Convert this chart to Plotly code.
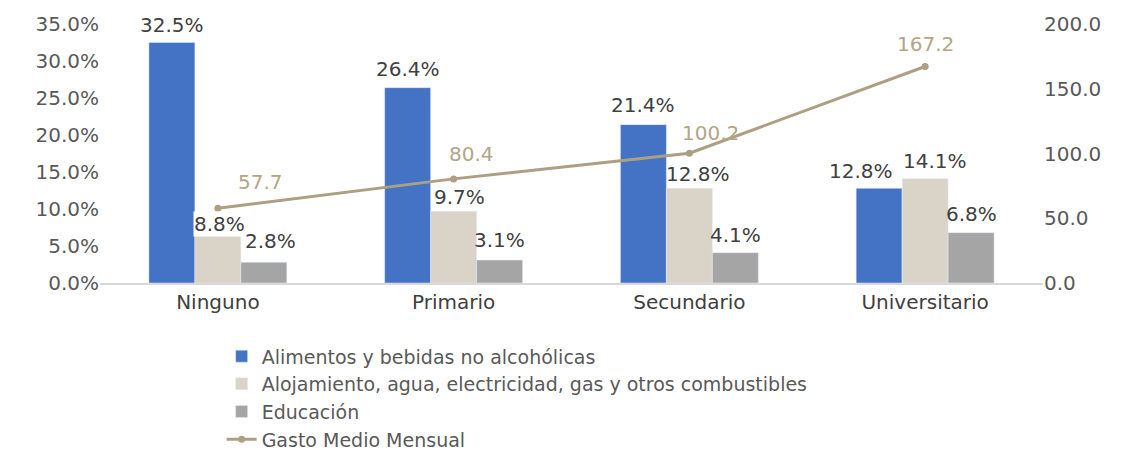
import plotly.graph_objects as go

categorias = ['Ninguno', 'Primario', 'Secundario', 'Universitario']
alimentos = [32.5, 26.4, 21.4, 12.8]
alojamiento = [8.8, 9.7, 12.8, 14.1]
educacion = [2.8, 3.1, 4.1, 6.8]
gasto_medio = [57.7, 80.4, 100.2, 167.2]

FONT = 'DejaVu Sans'
FS = 20
TXT = '#404040'
LINE = '#AC9F82'
BAR_PX = 46  # width of one bar on screen, used to put labels over their bar

fig = go.Figure()

bar_series = [
    ('Alimentos y bebidas no alcohólicas', alimentos, '#4472C4'),
    ('Alojamiento, agua, electricidad, gas y otros combustibles', alojamiento, '#D9D3C8'),
    ('Educación', educacion, '#A5A5A5'),
]
for name, vals, col in bar_series:
    fig.add_trace(go.Bar(x=categorias, y=vals, name=name, marker_color=col))

fig.add_trace(go.Scatter(
    x=categorias, y=gasto_medio, name='Gasto Medio Mensual', yaxis='y2',
    mode='lines+markers', line=dict(color=LINE, width=3),
    marker=dict(size=7, color=LINE),
))

# bar labels (the original has a few of them nudged by hand)
nudges = [
    [(0, 18), (0, 19), (0, 20), (-18, 17)],
    [(2, -6), (6, 14), (9, 14), (10, 18)],
    [(7, 21), (0, 20), (0, 18), (0, 19)],
]
for s, (name, vals, col) in enumerate(bar_series):
    for i, (c, v, (dx, dy)) in enumerate(zip(categorias, vals, nudges[s])):
        # the 8.8% label sits on a white box over the top of its bar
        bg = 'white' if (s == 1 and i == 0) else 'rgba(0,0,0,0)'
        fig.add_annotation(x=c, y=v, text=f'{v:.1f}%', showarrow=False,
                           xshift=(s - 1) * BAR_PX + dx, yshift=dy,
                           bgcolor=bg, borderpad=0,
                           font=dict(family=FONT, size=FS, color=TXT))

# line value labels
shifts = [(43, 26), (18, 25), (21, 20), (0, 22)]
for c, v, (dx, dy) in zip(categorias, gasto_medio, shifts):
    fig.add_annotation(x=c, y=v, yref='y2', text=f'{v:.1f}', showarrow=False,
                       xshift=dx, yshift=dy,
                       font=dict(family=FONT, size=FS, color='#B3A587'))

# plot sits in the top part of the paper, legend fills the space below
y_dom = [171 / 430, 1]

fig.update_layout(
    width=1125, height=446,
    margin=dict(l=92, r=90, t=16, b=0, autoexpand=False),
    paper_bgcolor='white', plot_bgcolor='white',
    barmode='group', bargap=0.415, bargroupgap=0,
    font=dict(family=FONT, size=FS, color='#595959'),
    xaxis=dict(showline=True, linecolor='#D9D9D9', linewidth=2, ticks='',
               tickfont=dict(color=TXT, size=FS), showgrid=False, automargin=False),
    yaxis=dict(domain=y_dom, range=[0, 35], dtick=5, tickformat='.1f', ticksuffix='%',
               showgrid=False, zeroline=False, ticks='', automargin=False,
               tickfont=dict(size=FS, color='#595959')),
    yaxis2=dict(domain=y_dom, range=[0, 200], dtick=50, tickformat='.1f', overlaying='y',
                side='right', showgrid=False, zeroline=False, ticks='', automargin=False,
                tickfont=dict(size=FS, color='#595959')),
    legend=dict(orientation='v', x=0.129, xanchor='left', y=-0.01, yanchor='bottom',
                font=dict(family=FONT, size=19, color='#595959'),
                tracegroupgap=0, itemwidth=30),
    showlegend=True,
)

fig.write_html('out.html')
